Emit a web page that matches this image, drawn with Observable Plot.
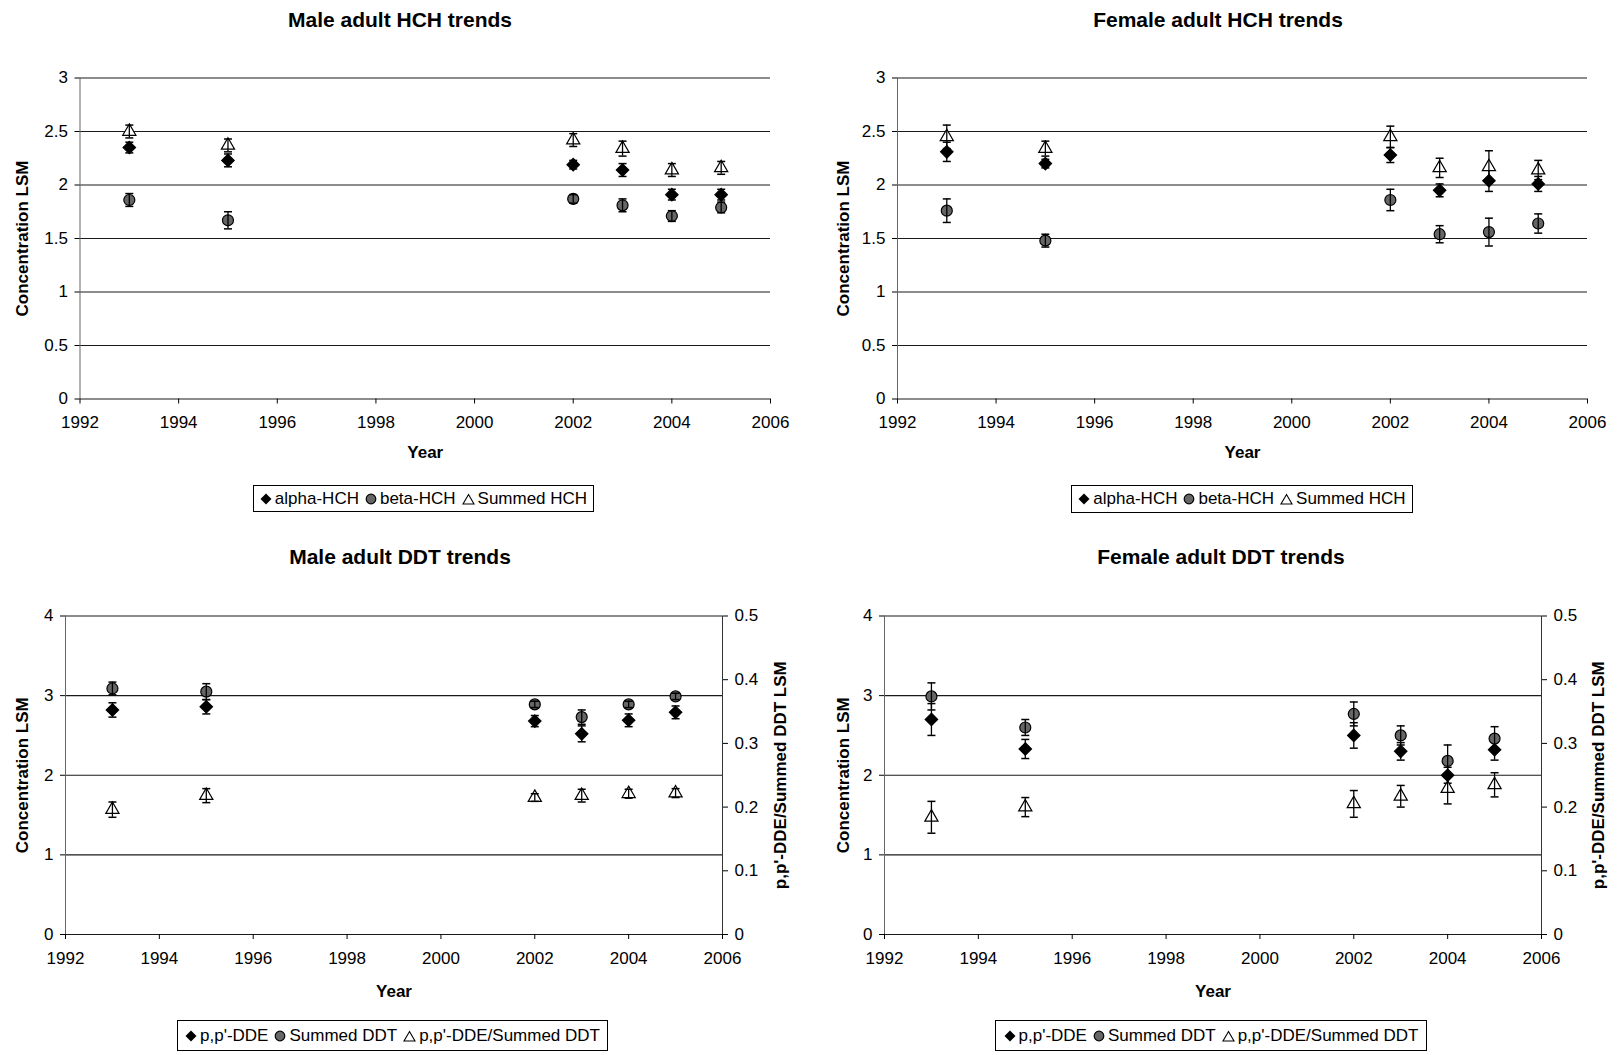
<!DOCTYPE html>
<html><head><meta charset="utf-8">
<script src="https://cdn.jsdelivr.net/npm/d3@7"></script>
<script src="https://cdn.jsdelivr.net/npm/@observablehq/plot@0.6"></script>
<style>
body{margin:0;background:#fff;font-family:"Liberation Sans",Arial,sans-serif;}
#root{position:relative;width:1619px;height:1055px;overflow:hidden;background:#fff}
.ttl{position:absolute;width:500px;text-align:center;font-weight:bold;font-size:21px;color:#000;line-height:1}
.leg{position:absolute;border:1px solid #000;font-size:17px;display:flex;align-items:center;justify-content:center;box-sizing:border-box;white-space:nowrap;color:#000;background:#fff}
.leg .item{display:inline-flex;align-items:center;margin:0 3px}
.leg svg{margin-right:3px}
.pl{position:absolute}
</style></head><body><div id="root"></div>
<script>
// ---------- data ----------
const years = [1993, 1995, 2002, 2003, 2004, 2005];
const xTicks = [1992, 1994, 1996, 1998, 2000, 2002, 2004, 2006];
const hchTicks = [0, 0.5, 1, 1.5, 2, 2.5, 3];
const ddtTicks = [0, 1, 2, 3, 4];
const ratioTicks = [0, 0.1, 0.2, 0.3, 0.4, 0.5];

// Male HCH
const maleAlphaHCH = [2.35, 2.23, 2.19, 2.14, 1.91, 1.91];
const maleAlphaHCHErr = [0.05, 0.06, 0.04, 0.06, 0.05, 0.05];
const maleBetaHCH = [1.86, 1.67, 1.87, 1.81, 1.71, 1.79];
const maleBetaHCHErr = [0.06, 0.08, 0.04, 0.06, 0.05, 0.05];
const maleSumHCH = [2.50, 2.37, 2.42, 2.34, 2.14, 2.16];
const maleSumHCHErr = [0.06, 0.06, 0.06, 0.07, 0.06, 0.06];

// Female HCH
const femAlphaHCH = [2.31, 2.20, 2.28, 1.95, 2.04, 2.01];
const femAlphaHCHErr = [0.09, 0.04, 0.07, 0.06, 0.10, 0.07];
const femBetaHCH = [1.76, 1.48, 1.86, 1.54, 1.56, 1.64];
const femBetaHCHErr = [0.11, 0.06, 0.10, 0.08, 0.13, 0.09];
const femSumHCH = [2.45, 2.34, 2.45, 2.16, 2.17, 2.14];
const femSumHCHErr = [0.11, 0.07, 0.10, 0.09, 0.15, 0.09];

// Male DDT
const maleDDE = [2.82, 2.86, 2.68, 2.52, 2.69, 2.79];
const maleDDEErr = [0.09, 0.09, 0.07, 0.10, 0.08, 0.08];
const maleSumDDT = [3.09, 3.05, 2.89, 2.73, 2.89, 2.99];
const maleSumDDTErr = [0.08, 0.10, 0.04, 0.09, 0.04, 0.04];
const maleRatio = [0.196, 0.218, 0.215, 0.218, 0.221, 0.222];
const maleRatioErr = [0.012, 0.011, 0.006, 0.010, 0.007, 0.007];

// Female DDT
const femDDE = [2.70, 2.33, 2.50, 2.30, 2.00, 2.32];
const femDDEErr = [0.20, 0.12, 0.16, 0.11, 0.10, 0.13];
const femSumDDT = [2.99, 2.60, 2.77, 2.50, 2.18, 2.46];
const femSumDDTErr = [0.17, 0.10, 0.15, 0.12, 0.20, 0.15];
const femRatio = [0.184, 0.200, 0.205, 0.217, 0.229, 0.235];
const femRatioErr = [0.025, 0.015, 0.021, 0.017, 0.024, 0.019];

const hchLegend = ["alpha-HCH", "beta-HCH", "Summed HCH"];
const ddtLegend = ["p,p'-DDE", "Summed DDT", "p,p'-DDE/Summed DDT"];

// ---------- styles ----------
const FONT = "'Liberation Sans', Arial, sans-serif";
const RATIO = 4 / 0.5; // right axis (0-0.5) drawn against left axis (0-4)
const capSymbol = {draw(ctx) { ctx.moveTo(-4, 0); ctx.lineTo(4, 0); }};
const markerStyles = [
  {symbol: "diamond2", fill: "#000", stroke: "#000", r: 5.6},
  {symbol: "circle", fill: "#666", stroke: "#000", r: 5.5},
  {symbol: "triangle", fill: "#fff", stroke: "#000", r: 4.9}
];

function rows(vals, errs, k) {
  return years.map((yr, i) => ({year: yr, v: vals[i] * k, lo: (vals[i] - errs[i]) * k, hi: (vals[i] + errs[i]) * k}));
}

function panel(cfg) {
  const marks = [
    Plot.ruleY(cfg.yTicks, {stroke: "#1a1a1a", strokeWidth: 1.2}),
    Plot.ruleX([1992], {stroke: "#666", strokeWidth: 1}),
    Plot.axisX({ticks: xTicks, tickFormat: d3.format("d"), tickSize: 5, tickPadding: 12, label: null}),
    Plot.axisY({ticks: cfg.yTicks, tickFormat: d => String(d), tickSize: 5, tickPadding: 7, label: null}),
    Plot.text(["Year"], {text: d => d, frameAnchor: "bottom", lineAnchor: "middle", dy: cfg.yearDy, fontWeight: "bold", fontSize: 17}),
    Plot.text(["Concentration LSM"], {text: d => d, frameAnchor: "left", textAnchor: "middle", lineAnchor: "middle", dx: cfg.yTitleDx, rotate: -90, fontWeight: "bold", fontSize: 17})
  ];
  if (cfg.right) {
    marks.push(Plot.ruleX([2006], {stroke: "#333", strokeWidth: 1}));
    marks.push(Plot.axisY({anchor: "right", ticks: ratioTicks.map(v => v * RATIO), tickFormat: d => String(d / RATIO), tickSize: 5, tickPadding: 7, label: null}));
    marks.push(Plot.text(["p,p'-DDE/Summed DDT LSM"], {text: d => d, frameAnchor: "right", textAnchor: "middle", lineAnchor: "middle", dx: cfg.rTitleDx, rotate: -90, fontWeight: "bold", fontSize: 17}));
  }
  cfg.series.forEach((s, i) => {
    const st = markerStyles[i];
    const data = rows(s.vals, s.errs, s.k || 1);
    marks.push(Plot.dot(data, {x: "year", y: "v", symbol: st.symbol, fill: st.fill, stroke: st.stroke, strokeWidth: 1.2, r: st.r}));
    marks.push(Plot.ruleX(data, {x: "year", y1: "lo", y2: "hi", stroke: "#000", strokeWidth: 1.3}));
    marks.push(Plot.dot(data, {x: "year", y: "lo", symbol: capSymbol, fill: "none", stroke: "#000", strokeWidth: 1.5}));
    marks.push(Plot.dot(data, {x: "year", y: "hi", symbol: capSymbol, fill: "none", stroke: "#000", strokeWidth: 1.5}));
  });
  const svg = Plot.plot({
    width: cfg.width, height: cfg.height,
    marginLeft: cfg.mL, marginRight: cfg.mR, marginTop: cfg.mT, marginBottom: cfg.mB,
    x: {domain: [1992, 2006]},
    y: {domain: cfg.yDomain},
    style: {fontSize: "17px", fontFamily: FONT, color: "#000", background: "transparent", overflow: "visible"},
    marks
  });
  svg.classList.add("pl");
  svg.style.left = cfg.left + "px";
  svg.style.top = cfg.top + "px";
  return svg;
}

const legendIcons = [
  '<svg width="12" height="12" viewBox="0 0 12 12"><path d="M6 0.5L11.5 6L6 11.5L0.5 6Z" fill="#000"/></svg>',
  '<svg width="12" height="12" viewBox="0 0 12 12"><circle cx="6" cy="6" r="4.8" fill="#666" stroke="#000" stroke-width="1.2"/></svg>',
  '<svg width="13" height="12" viewBox="0 0 13 12"><path d="M6.5 1.5L12 11H1Z" fill="#fff" stroke="#000" stroke-width="1.1"/></svg>'
];

const root = document.getElementById("root");
function addTitle(text, cx, cy) {
  const d = document.createElement("div");
  d.className = "ttl"; d.textContent = text;
  d.style.left = (cx - 250) + "px"; d.style.top = (cy - 10) + "px";
  root.appendChild(d);
}
function addLegend(labels, x, y, w, h) {
  const d = document.createElement("div");
  d.className = "leg";
  d.style.left = x + "px"; d.style.top = y + "px"; d.style.width = w + "px"; d.style.height = h + "px";
  d.innerHTML = labels.map((l, i) => `<span class="item">${legendIcons[i]}<span></span></span>`).join("");
  d.querySelectorAll(".item > span").forEach((s, i) => s.textContent = labels[i]);
  root.appendChild(d);
}

const configs = [
  {title: "Male adult HCH trends", tx: 400, ty: 19, left: 0, top: 60, width: 800, height: 420,
   mL: 79.5, mR: 30, mT: 17.5, mB: 81.5, yDomain: [0, 3], yTicks: hchTicks, yTitleDx: -57, yearDy: 54,
   series: [{vals: maleAlphaHCH, errs: maleAlphaHCHErr}, {vals: maleBetaHCH, errs: maleBetaHCHErr}, {vals: maleSumHCH, errs: maleSumHCHErr}],
   legend: hchLegend, lg: [253, 485, 341, 27]},
  {title: "Female adult HCH trends", tx: 1218, ty: 19, left: 810, top: 60, width: 800, height: 420,
   mL: 87, mR: 23, mT: 17.5, mB: 81.5, yDomain: [0, 3], yTicks: hchTicks, yTitleDx: -54, yearDy: 54,
   series: [{vals: femAlphaHCH, errs: femAlphaHCHErr}, {vals: femBetaHCH, errs: femBetaHCHErr}, {vals: femSumHCH, errs: femSumHCHErr}],
   legend: hchLegend, lg: [1071, 485, 342, 28]},
  {title: "Male adult DDT trends", tx: 400, ty: 556, left: 0, top: 598, width: 800, height: 420,
   mL: 65, mR: 78, mT: 17.5, mB: 84, yDomain: [0, 4], yTicks: ddtTicks, yTitleDx: -43, yearDy: 57, right: true, rTitleDx: 58,
   series: [{vals: maleDDE, errs: maleDDEErr}, {vals: maleSumDDT, errs: maleSumDDTErr}, {vals: maleRatio, errs: maleRatioErr, k: RATIO}],
   legend: ddtLegend, lg: [177, 1020, 431, 31]},
  {title: "Female adult DDT trends", tx: 1221, ty: 556, left: 810, top: 598, width: 809, height: 420,
   mL: 74, mR: 78, mT: 17.5, mB: 84, yDomain: [0, 4], yTicks: ddtTicks, yTitleDx: -41, yearDy: 57, right: true, rTitleDx: 57,
   series: [{vals: femDDE, errs: femDDEErr}, {vals: femSumDDT, errs: femSumDDTErr}, {vals: femRatio, errs: femRatioErr, k: RATIO}],
   legend: ddtLegend, lg: [995, 1020, 432, 31]}
];

configs.forEach(c => {
  root.appendChild(panel(c));
  addTitle(c.title, c.tx, c.ty);
  addLegend(c.legend, ...c.lg);
});
</script>
</body></html>
